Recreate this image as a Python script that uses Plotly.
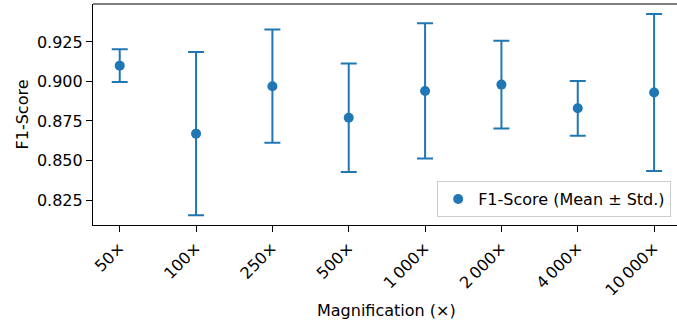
import plotly.graph_objects as go

categories = ["50×", "100×", "250×", "500×", "1\u2009000×", "2\u2009000×", "4\u2009000×", "10\u2009000×"]
means = [0.910, 0.867, 0.897, 0.877, 0.894, 0.898, 0.883, 0.893]
stds = [0.0103, 0.0516, 0.0358, 0.0343, 0.0428, 0.0278, 0.0173, 0.0496]
x_title = "Magnification (×)"
y_title = "F1-Score"

x = list(range(len(categories)))
blue = "#1f77b4"
font = "DejaVu Sans"
fs = 16

fig = go.Figure()
fig.add_trace(go.Scatter(
    x=x, y=means, mode="markers",
    name="F1-Score (Mean ± Std.)",
    marker=dict(color=blue, size=10),
    error_y=dict(type="data", array=stds, visible=True, color=blue, thickness=2, width=8),
))

fig.update_layout(
    width=677, height=324,
    margin=dict(l=93, r=0, t=4, b=99, autoexpand=False),
    plot_bgcolor="white", paper_bgcolor="white",
    font=dict(family=font, size=fs, color="black"),
    showlegend=True,
    legend=dict(
        x=0.99, y=0.036, xanchor="right", yanchor="bottom",
        bgcolor="rgba(255,255,255,0.8)", bordercolor="#cccccc", borderwidth=1,
        font=dict(family=font, size=fs),
    ),
    xaxis=dict(
        range=[-0.35, 7.30], tickmode="array", tickvals=x, ticktext=categories,
        tickangle=-45, showgrid=False, zeroline=False, automargin=False,
        showline=True, linecolor="black", linewidth=1.2,
        ticks="outside", ticklen=6, tickcolor="black",
    ),
    yaxis=dict(
        range=[0.8092, 0.949], tickvals=[0.825, 0.85, 0.875, 0.9, 0.925],
        tickformat=".3f", showgrid=False, zeroline=False, automargin=False,
        showline=True, linecolor="black", linewidth=1.2,
        ticks="outside", ticklen=6, tickcolor="black",
        title=dict(text=y_title, standoff=4, font=dict(size=fs)),
    ),
    shapes=[dict(type="line", xref="paper", yref="paper", x0=0, x1=1, y0=1, y1=1,
                 line=dict(color="black", width=1.2))],
    annotations=[dict(text=x_title, xref="paper", yref="paper", x=0.503, y=0,
                      xanchor="center", yanchor="middle", yshift=-85, showarrow=False,
                      font=dict(family=font, size=fs))],
)

fig.write_html("out.html", config={"displayModeBar": False},
               post_script="document.body.style.margin='0';document.body.style.overflow='hidden';")
